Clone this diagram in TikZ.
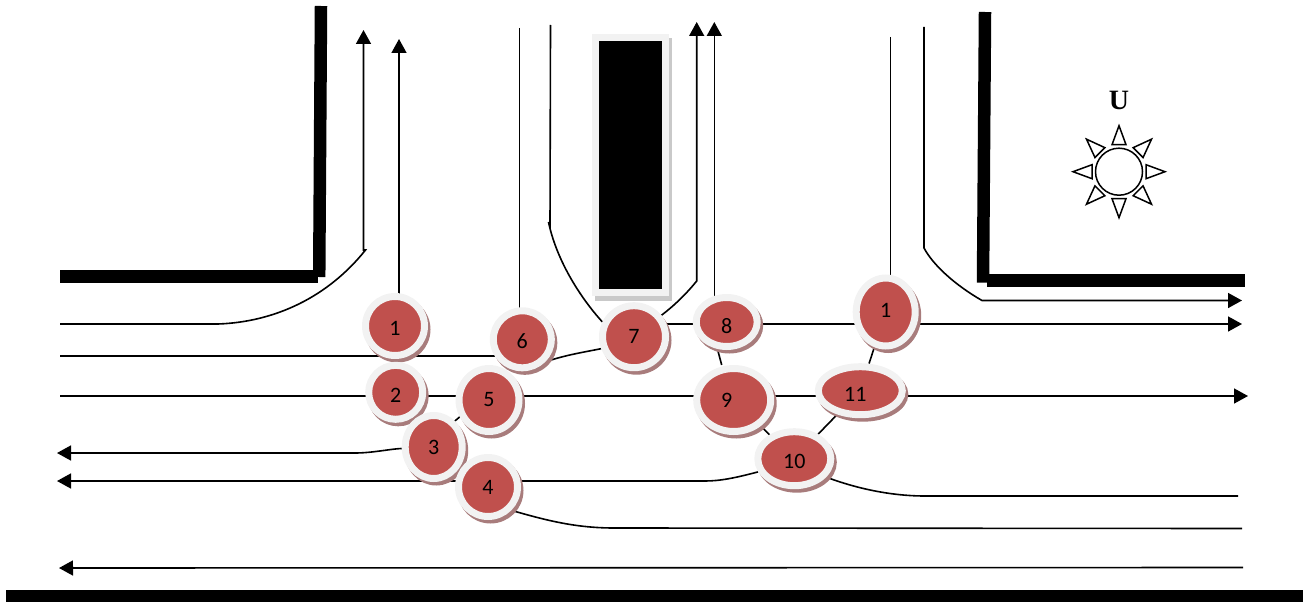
\documentclass[tikz,border=0pt]{standalone}
\usepackage{fontspec}
\setmainfont{Carlito}
\newfontfamily\boldserif{Liberation Serif}[BoldFont=Liberation Serif Bold]
\usetikzlibrary{arrows.meta,backgrounds,shadows,shapes.geometric}
\definecolor{ringgrey}{HTML}{F2F2F2}
\definecolor{conflictred}{HTML}{C0504D}
\definecolor{shadowred}{HTML}{A87C7C}
\definecolor{shadowgrey}{HTML}{C9C9C9}
\newcommand{\nudged}[2]{\raisebox{#1}[\height][0pt]{#2}}
\tikzset{
  conflict/.style 2 args={ellipse,draw=ringgrey,line width=7pt,fill=conflictred,inner sep=0pt,
    minimum width=#1pt+7pt,minimum height=#2pt+7pt,text=black,font=\fontsize{22}{22}\selectfont,
    general shadow={shadow xshift=2.5pt,shadow yshift=-3.5pt,fill=shadowred,draw=shadowred}},
  lane/.style={line width=1.6pt,black},
  lanearrow/.style={lane,-{Triangle[length=14pt,width=15pt]}},
  wall/.style={line width=12.5pt,black},
  sunray/.style={line width=1.5pt,black,line join=miter}
}
\begin{document}
\begin{tikzpicture}[x=1pt,y=-1pt]
\useasboundingbox (0,0) rectangle (1303,602);
\node[conflict={52}{52}] (n1) at (395,326) {\nudged{-2pt}{1}};
\node[conflict={47}{47}] (n2) at (395.7,392.3) {\nudged{-3pt}{2}};
\node[conflict={50}{56}] (n3) at (433.7,447) {3};
\node[conflict={51}{50}] (n6) at (522.3,339.3) {\nudged{-2pt}{6}};
\node[conflict={53}{56}] (n5) at (489,400) {5};
\node[conflict={52}{52}] (n4) at (488,487) {4};
\node[conflict={56}{55}] (n7) at (634,336.7) {7};
\node[conflict={54}{42}] (n8) at (726.7,322) {\nudged{-3.5pt}{8}};
\node[conflict={67}{56}] (n9) at (733.7,400) {9\hspace*{14pt}};
\node[conflict={66}{47}] (n10) at (794.3,458.7) {\nudged{-3pt}{10}};
\node[conflict={77}{41}] (n11) at (860.3,390.7) {\nudged{-4pt}{11}\hspace*{10pt}};
\node[conflict={52}{61}] (n12) at (885.7,312) {\nudged{2pt}{1}};
\node[rectangle,draw=ringgrey,line width=7pt,fill=black,inner sep=0pt,minimum width=70pt,minimum height=255.5pt,
  general shadow={shadow xshift=3pt,shadow yshift=-4.5pt,fill=shadowgrey,draw=shadowgrey}] (median) at (630.8,165) {};
\node[circle,draw,line width=1.5pt,inner sep=0pt,minimum size=47pt] (sun) at (1119,171.7) {};
\node[font=\boldserif\bfseries\fontsize{28}{28}\selectfont] (north) at (1119,100) {U};
\foreach \ang in {0,45,...,315}
  \draw[sunray,shift={(sun.center)},rotate=\ang] (27,-7) -- (46,0) -- (27,7) -- cycle;
\coordinate (w1) at (60,324);
\coordinate (w2) at (60,356);
\coordinate (w3) at (60,396);
\coordinate (wa) at (57,453);
\coordinate (wb) at (57,481);
\coordinate (wc) at (59,568);
\coordinate (ec) at (1243,567.5);
\coordinate (e1) at (1242,300.5);
\coordinate (e2) at (1242,324);
\coordinate (e3) at (1248,396);
\coordinate (e4) at (1238,496);
\coordinate (e5) at (1242,528.5);
\coordinate (ua) at (363.5,30);
\coordinate (ub) at (399,39);
\coordinate (uc) at (696.7,22);
\coordinate (ud) at (714.3,22);
\coordinate (tf) at (519.5,28);
\coordinate (tg) at (550.5,25);
\coordinate (th) at (890.5,37);
\coordinate (ti) at (924,27);
\begin{pgfonlayer}{background}
\draw[wall] (60,276.7) -- (318.3,276.7);
\draw[wall] (319.2,277) -- (321,6);
\draw[wall] (985,12) -- (983,282.7);
\draw[wall,line width=13pt] (987.3,280) -- (1245,280);
\draw[line width=12pt] (6,596) -- (1303,596);
\draw[lanearrow] (w1) -- (218,324) .. controls (275,322) and (328,297) .. (365.5,250) -- (363.5,250) -- (ua);
\draw[lanearrow] (ub |- n1) -- (ub);
\draw[lane] (w2) -- (w2 -| n6);
\draw[lanearrow] (w3) -- (w3 -| n2) -- (w3 -| n5) -- (w3 -| n9) -- (w3 -| n11) -- (e3);
\draw[lanearrow] (n3) .. controls (390,449) and (372,453) .. (355,453) -- (wa);
\draw[lanearrow] (n10.200) .. controls (735,478) and (720,481) .. (705,481) -- (wb -| n4) -- (wb);
\draw[lane] (n4.south east) .. controls (545,520) and (575,528) .. (614,528) -- (e5);
\draw[lane] (n10.-30) .. controls (855,488) and (890,496) .. (925,496) -- (e4);
\draw[lanearrow] (ec) -- (wc);
\draw[lane] (n1) -- (n2);
\draw[lane] (n2) -- (n3);
\draw[lane] ([yshift=8pt]n3.center) -- ([yshift=8pt]n5.center);
\draw[lane] (tf) -- (tf |- n6);
\draw[lane] (n6.south east) .. controls (565,355) and (585,352) .. (n7.200);
\draw[lane] (tg) -- (550,227) -- (548.5,222) .. controls (556,258) and (578,295) .. (n7.155);
\draw[lanearrow] (n7.38) .. controls (675,305) and (687,293) .. (696.7,281) -- (uc);
\draw[lanearrow] (n7 |- e2) -- (n8 |- e2) -- (n12 |- e2) -- (e2);
\draw[lanearrow] (ud |- n8) -- (ud);
\draw[lane] ([xshift=-9pt]n8.south) -- ([xshift=-12pt]n9.north);
\draw[lane] (n9) -- (n10);
\draw[lane] (n11) -- (n10);
\draw[lane] (n12) -- (n11);
\draw[lane] (th) -- (th |- n12);
\draw[lanearrow] (ti) -- (924,248) .. controls (933,265) and (955,285) .. (982,300.5) -- (e1);
\end{pgfonlayer}
\end{tikzpicture}
\end{document}
